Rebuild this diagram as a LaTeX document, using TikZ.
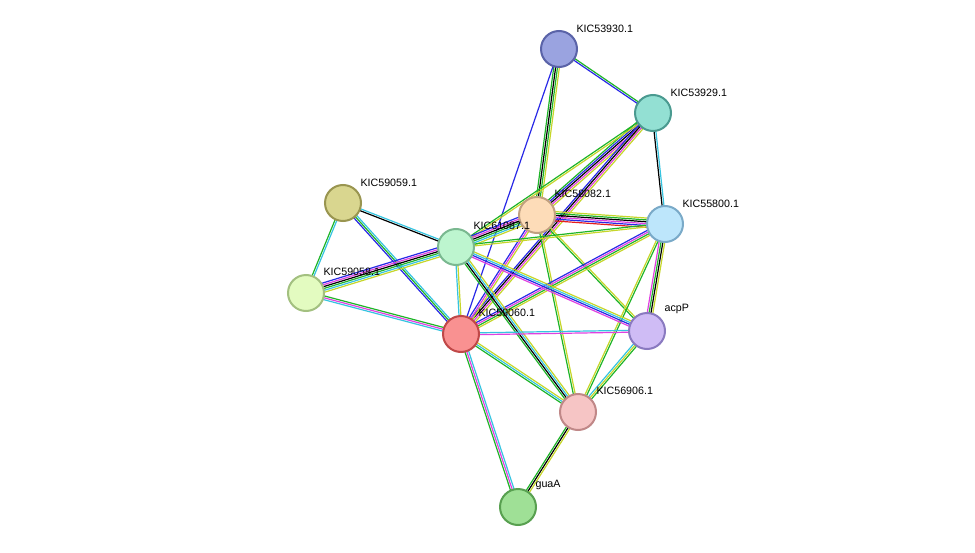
\documentclass[tikz,border=0pt]{standalone}
\usepackage{fontspec}
\setmainfont{Liberation Sans}
\usetikzlibrary{calc}
\pgfdeclarelayer{edges}
\pgfsetlayers{edges,main}
\definecolor{dbcyan}{RGB}{54,196,224}
\definecolor{expink}{RGB}{224,64,224}
\definecolor{txtyel}{RGB}{198,214,42}
\definecolor{nbgreen}{RGB}{30,180,40}
\definecolor{coblue}{RGB}{40,40,230}
\definecolor{fusred}{RGB}{230,30,30}
\newcommand{\lnk}[4]{%
  \foreach \c [count=\i] in {#4}{%
    \pgfmathsetmacro{\off}{(\i-(#3+1)/2)*1.4}
    \draw[\c, line width=0.9pt] ($(#1.center)!\off pt!90:(#2.center)$) -- ($(#2.center)!\off pt!-90:(#1.center)$);
  }}

\begin{document}
\begin{tikzpicture}[x=0.75pt,y=-0.75pt,
  prot/.style={circle, minimum size=27pt, line width=1.5pt, inner sep=0pt},
  lbl/.style={font=\fontsize{8}{9}\selectfont, anchor=south west, inner sep=1pt}]
  \useasboundingbox (0,0) rectangle (975,553);
  % proteins
  \node[prot, fill={rgb,255:red,154;green,163;blue,224}, draw={rgb,255:red,90;green,99;blue,168}] (k53930) at (559,49) {};
  \node[prot, fill={rgb,255:red,147;green,224;blue,211}, draw={rgb,255:red,74;green,154;blue,144}] (k53929) at (653,113) {};
  \node[prot, fill={rgb,255:red,253;green,220;blue,184}, draw={rgb,255:red,192;green,160;blue,128}] (k58082) at (537,215) {};
  \node[prot, fill={rgb,255:red,189;green,230;blue,251}, draw={rgb,255:red,122;green,170;blue,200}] (k55800) at (665,224) {};
  \node[prot, fill={rgb,255:red,217;green,214;blue,143}, draw={rgb,255:red,153;green,149;blue,80}] (k59059) at (343,203) {};
  \node[prot, fill={rgb,255:red,189;green,245;blue,207}, draw={rgb,255:red,122;green,184;blue,144}] (k61087) at (456,247) {};
  \node[prot, fill={rgb,255:red,227;green,251;blue,192}, draw={rgb,255:red,163;green,192;blue,128}] (k59058) at (306,293) {};
  \node[prot, fill={rgb,255:red,249;green,145;blue,145}, draw={rgb,255:red,192;green,72;blue,72}] (k59060) at (461,334) {};
  \node[prot, fill={rgb,255:red,207;green,188;blue,245}, draw={rgb,255:red,138;green,122;blue,192}] (acpP) at (647,331) {};
  \node[prot, fill={rgb,255:red,246;green,197;blue,197}, draw={rgb,255:red,192;green,136;blue,136}] (k56906) at (578,412) {};
  \node[prot, fill={rgb,255:red,159;green,224;blue,150}, draw={rgb,255:red,88;green,160;blue,80}] (guaA) at (518,507) {};
  % labels
  \node[lbl] at (575,34) {KIC53930.1};
  \node[lbl] at (669,98) {KIC53929.1};
  \node[lbl] at (553,199) {KIC58082.1};
  \node[lbl] at (681,209) {KIC55800.1};
  \node[lbl] at (359,188) {KIC59059.1};
  \node[lbl] at (472,231) {KIC61087.1};
  \node[lbl] at (322,277) {KIC59058.1};
  \node[lbl] at (477,318) {KIC59060.1};
  \node[lbl] at (663,315) {acpP};
  \node[lbl] at (595,396) {KIC56906.1};
  \node[lbl] at (534,491) {guaA};
  % interactions
  \begin{pgfonlayer}{edges}
  \lnk{k53930}{k53929}{2}{coblue,nbgreen}
  \lnk{k53930}{k58082}{4}{nbgreen,black,nbgreen,txtyel}
  \lnk{k53930}{k59060}{1}{coblue}
  \lnk{k53929}{k58082}{5}{nbgreen,coblue,black,expink,txtyel}
  \lnk{k53929}{k55800}{2}{black,dbcyan}
  \lnk{k53929}{k61087}{2}{nbgreen,txtyel}
  \lnk{k53929}{k59060}{4}{coblue,black,expink,txtyel}
  \lnk{k58082}{k55800}{6}{fusred,coblue,expink,black,nbgreen,txtyel}
  \lnk{k58082}{k61087}{6}{coblue,expink,black,nbgreen,dbcyan,txtyel}
  \lnk{k58082}{k59060}{3}{coblue,expink,txtyel}
  \lnk{k58082}{acpP}{2}{nbgreen,txtyel}
  \lnk{k58082}{k56906}{2}{nbgreen,txtyel}
  \lnk{k55800}{k61087}{2}{nbgreen,txtyel}
  \lnk{k55800}{k59060}{4}{coblue,expink,nbgreen,txtyel}
  \lnk{k55800}{acpP}{4}{expink,nbgreen,black,txtyel}
  \lnk{k55800}{k56906}{2}{txtyel,nbgreen}
  \lnk{k59059}{k61087}{2}{black,dbcyan}
  \lnk{k59059}{k59058}{2}{nbgreen,dbcyan}
  \lnk{k59059}{k59060}{3}{coblue,nbgreen,dbcyan}
  \lnk{k61087}{k59058}{6}{coblue,expink,black,nbgreen,dbcyan,txtyel}
  \lnk{k61087}{k59060}{2}{dbcyan,txtyel}
  \lnk{k61087}{acpP}{4}{expink,coblue,dbcyan,txtyel}
  \lnk{k61087}{k56906}{4}{nbgreen,black,dbcyan,txtyel}
  \lnk{k59058}{k59060}{3}{dbcyan,expink,nbgreen}
  \lnk{k59060}{acpP}{2}{expink,dbcyan}
  \lnk{k59060}{k56906}{3}{nbgreen,dbcyan,txtyel}
  \lnk{k59060}{guaA}{3}{nbgreen,expink,dbcyan}
  \lnk{k56906}{guaA}{3}{nbgreen,black,txtyel}
  \lnk{acpP}{k56906}{3}{dbcyan,txtyel,nbgreen}
  \end{pgfonlayer}
\end{tikzpicture}
\end{document}
